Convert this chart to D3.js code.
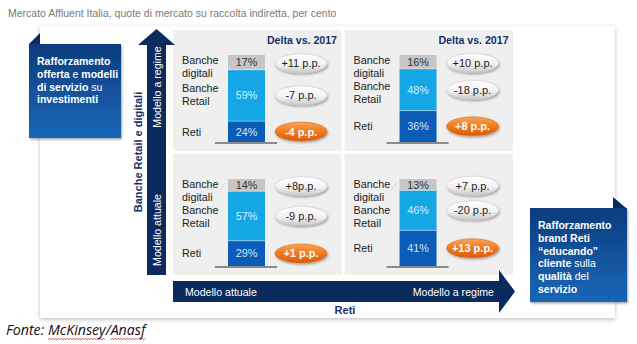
<!DOCTYPE html>
<html><head><meta charset="utf-8">
<script src="https://cdn.jsdelivr.net/npm/d3@7"></script>
<style>
body{margin:0;background:#fff}
svg{display:block;font-family:"Liberation Sans",Arial,Helvetica,sans-serif}
</style>
</head><body>
<svg id="chart" width="637" height="344"></svg>
<script>
// Quote di mercato (raccolta indiretta) per quadrante: modello Banche × modello Reti
const modelli = ["Modello attuale", "Modello a regime"];
const quadranteBanche = ["Modello a regime", "Modello a regime", "Modello attuale", "Modello attuale"];
const quadranteReti = ["Modello attuale", "Modello a regime", "Modello attuale", "Modello a regime"];
const segmenti = ["Banche digitali", "Banche Retail", "Reti"];
const quotaDigitali = [17, 16, 14, 13];
const quotaRetail = [59, 48, 57, 46];
const quotaReti = [24, 36, 29, 41];
const deltaDigitali = ["+11 p.p.", "+10 p.p.", "+8p.p.", "+7 p.p."];
const deltaRetail = ["-7 p.p.", "-18 p.p.", "-9 p.p.", "-20 p.p."];
const deltaReti = ["-4 p.p.", "+8 p.p.", "+1 p.p.", "+13 p.p."];

const NAVY = "#0b2a5e", TXT = "#14306b";
const colori = {"Banche digitali": "#c6c6c6", "Banche Retail": "#15a6e6", "Reti": "#0b5cb6"};
const coloriTesto = {"Banche digitali": "#333", "Banche Retail": "#d6f0fc", "Reti": "#d3e3f6"};

const svg = d3.select("#chart");
const defs = svg.append("defs");

const shadow = defs.append("filter").attr("id", "ombra").attr("x", "-20%").attr("y", "-20%").attr("width", "140%").attr("height", "150%");
shadow.append("feDropShadow").attr("dx", 1).attr("dy", 1.5).attr("stdDeviation", 1.3).attr("flood-opacity", 0.35);
const shadowCard = defs.append("filter").attr("id", "ombraCard").attr("x", "-5%").attr("y", "-5%").attr("width", "110%").attr("height", "115%");
shadowCard.append("feDropShadow").attr("dx", 0).attr("dy", 1.5).attr("stdDeviation", 2).attr("flood-opacity", 0.25);

function grad(id, stops) {
  const g = defs.append("linearGradient").attr("id", id).attr("x1", 0).attr("y1", 0).attr("x2", 0).attr("y2", 1);
  stops.forEach(([o, c]) => g.append("stop").attr("offset", o).attr("stop-color", c));
}
grad("gBox", [[0, "#0e3c7c"], [1, "#1767b8"]]);
grad("gPill", [[0, "#ffffff"], [0.55, "#f2f2f2"], [1, "#c9c9c9"]]);
grad("gPillOr", [[0, "#f9a559"], [0.5, "#f07a1c"], [1, "#dc5a06"]]);

// title
svg.append("text").attr("x", 8).attr("y", 17).attr("font-size", 10.5).attr("fill", "#7a7a7a")
  .text("Mercato Affluent Italia, quote di mercato su raccolta indiretta, per cento");

// card
svg.append("rect").attr("x", 40).attr("y", 26).attr("width", 575).attr("height", 292)
  .attr("fill", "#fff").attr("filter", "url(#ombraCard)");

// quadrant scales
const x = d3.scaleBand().domain(modelli).range([173, 513]).paddingInner(0.018);
const yRow = d3.scaleBand().domain(["Modello a regime", "Modello attuale"]).range([30, 275]).paddingInner(0.0245);
const stack = d3.stack().keys(["Reti", "Banche Retail", "Banche digitali"]);

quadranteBanche.forEach((mb, i) => {
  const x0 = x(quadranteReti[i]), y0 = yRow(mb);
  const g = svg.append("g");
  g.append("rect").attr("x", x0).attr("y", y0).attr("width", x.bandwidth()).attr("height", yRow.bandwidth()).attr("fill", "#efefef");
  if (mb === "Modello a regime") {
    g.append("text").attr("x", x0 + 164).attr("y", y0 + 14).attr("text-anchor", "end")
      .attr("font-size", 10.6).attr("font-weight", "bold").attr("fill", TXT).text("Delta vs. 2017");
  }
  const y = d3.scaleLinear().domain([0, 100]).range([y0 + 25 + 87, y0 + 25]);
  const riga = {"Banche digitali": quotaDigitali[i], "Banche Retail": quotaRetail[i], "Reti": quotaReti[i]};
  const serie = stack([riga]);
  const bx = x0 + 55, bw = 37;
  const mid = {};
  serie.forEach(s => {
    const d = s[0];
    mid[s.key] = (y(d[0]) + y(d[1])) / 2;
    g.append("rect").attr("x", bx).attr("y", y(d[1])).attr("width", bw).attr("height", y(d[0]) - y(d[1]))
      .attr("fill", colori[s.key]);
    g.append("text").attr("x", bx + bw / 2).attr("y", mid[s.key] + 4).attr("text-anchor", "middle")
      .attr("font-size", 10.8).attr("fill", coloriTesto[s.key]).text(d.data[s.key] + "%");
  });
  // white separators between segments
  [quotaReti[i], quotaReti[i] + quotaRetail[i]].forEach(v => {
    g.append("line").attr("x1", bx).attr("x2", bx + bw).attr("y1", y(v)).attr("y2", y(v))
      .attr("stroke", "#fff").attr("stroke-opacity", 0.5).attr("stroke-width", 0.8);
  });
  g.append("line").attr("x1", bx - 13).attr("x2", bx + bw + 12).attr("y1", y(0) + 1).attr("y2", y(0) + 1)
    .attr("stroke", "#8a8a8a").attr("stroke-width", 2);

  // category labels
  const top = y(100);
  const lab = (t, yy) => g.append("text").attr("x", x0 + 9).attr("y", yy).attr("font-size", 10.8).attr("fill", "#222").text(t);
  lab("Banche", top + 9); lab("digitali", top + 22);
  const r1 = Math.max(mid["Banche Retail"] - 3, top + 35);
  lab("Banche", r1); lab("Retail", r1 + 13);
  lab("Reti", mid["Reti"] + 4);
  if (mb === "Modello attuale") {
    g.append("line").attr("x1", bx - 8).attr("y1", top + 11).attr("x2", bx - 3).attr("y2", top + 4)
      .attr("stroke", "#c8c8c8").attr("stroke-width", 0.8);
  }

  // delta pills
  const px = x0 + 128;
  const pill = (cy, t, arancio) => {
    g.append("ellipse").attr("cx", px).attr("cy", cy).attr("rx", 26).attr("ry", 9.5)
      .attr("fill", arancio ? "url(#gPillOr)" : "url(#gPill)")
      .attr("stroke", arancio ? "#d9600c" : "#c4c4c4").attr("stroke-width", 0.5)
      .attr("filter", "url(#ombra)");
    g.append("text").attr("x", px).attr("y", cy + 4).attr("text-anchor", "middle")
      .attr("font-size", 11).attr("font-weight", arancio ? "bold" : "normal")
      .attr("fill", arancio ? "#fff" : "#1e1e1e").text(t);
  };
  pill(mid["Banche digitali"] + 1, deltaDigitali[i], false);
  pill(mid["Banche Retail"], deltaRetail[i], false);
  pill(mid["Reti"], deltaReti[i], true);
});

// vertical arrow (Banche Retail e digitali)
svg.append("path").attr("d", "M147,275 L147,45 L138,45 L156.5,29 L175,45 L166,45 L166,275 Z").attr("fill", NAVY);
svg.append("text").attr("transform", "translate(160.5,87) rotate(-90)").attr("text-anchor", "middle")
  .attr("font-size", 10.6).attr("fill", "#fff").text("Modello a regime");
svg.append("text").attr("transform", "translate(160.5,230) rotate(-90)").attr("text-anchor", "middle")
  .attr("font-size", 10.6).attr("fill", "#fff").text("Modello attuale");
svg.append("text").attr("transform", "translate(141.5,152) rotate(-90)").attr("text-anchor", "middle")
  .attr("font-size", 11).attr("font-weight", "bold").attr("fill", TXT).text("Banche Retail e digitali");

// horizontal arrow (Reti)
svg.append("path").attr("d", "M173,281 L499,281 L499,270 L515,291.5 L499,313 L499,302 L173,302 Z").attr("fill", NAVY);
svg.append("text").attr("x", 185).attr("y", 295.5).attr("font-size", 10.6).attr("fill", "#fff").text("Modello attuale");
svg.append("text").attr("x", 494).attr("y", 295.5).attr("text-anchor", "end").attr("font-size", 10.6).attr("fill", "#fff").text("Modello a regime");
svg.append("text").attr("x", 345).attr("y", 314).attr("text-anchor", "middle").attr("font-size", 11).attr("font-weight", "bold").attr("fill", TXT).text("Reti");

// side boxes
function box(bx, by, w, h, fold, righe) {
  svg.append("path").attr("d", fold).attr("fill", NAVY);
  svg.append("rect").attr("x", bx).attr("y", by).attr("width", w).attr("height", h)
    .attr("fill", "url(#gBox)").attr("filter", "url(#ombra)");
  righe.forEach((parti, k) => {
    const t = svg.append("text").attr("x", bx + 8).attr("y", by + 21 + k * 12.8).attr("font-size", 10.5).attr("fill", "#fff");
    parti.forEach(([s, b]) => t.append("tspan").attr("font-weight", b ? "bold" : "normal").text(s));
  });
}
box(29, 44, 92, 94, "M29,44 L40,33 L40,44 Z", [
  [["Rafforzamento", 1]],
  [["offerta", 1], [" e ", 0], ["modelli", 1]],
  [["di servizio", 1], [" su", 0]],
  [["investimenti", 1]]
]);
box(530, 208, 97, 94, "M613,197 L626,208 L613,208 Z", [
  [["Rafforzamento", 1]],
  [["brand Reti", 1]],
  [["\u201ceducando\u201d", 1]],
  [["cliente", 1], [" sulla", 0]],
  [["qualità", 1], [" del", 0]],
  [["servizio", 1]]
]);

// source, with spell-check squiggles under the proper names
const fonteTesto = "Fonte: McKinsey/Anasf";
const fonte = svg.append("text").attr("x", 6).attr("y", 335).attr("font-size", 14.2).attr("font-style", "italic").attr("fill", "#111")
  .attr("font-family", "'Open Sans','Liberation Sans',Arial,sans-serif").text(fonteTesto);
const fn = fonte.node();
["McKinsey", "Anasf"].forEach(w => {
  const k = fonteTesto.indexOf(w);
  const x0 = fn.getStartPositionOfChar(k).x;
  const len = fn.getSubStringLength(k, w.length);
  const pts = d3.range(0, Math.floor(len / 1.5) + 1).map(j => [x0 + j * 1.5, 339 + (j % 2 ? -0.8 : 0.8)]);
  svg.append("path").attr("d", d3.line()(pts)).attr("fill", "none").attr("stroke", "#e02020").attr("stroke-width", 0.8);
});
</script>
</body></html>
